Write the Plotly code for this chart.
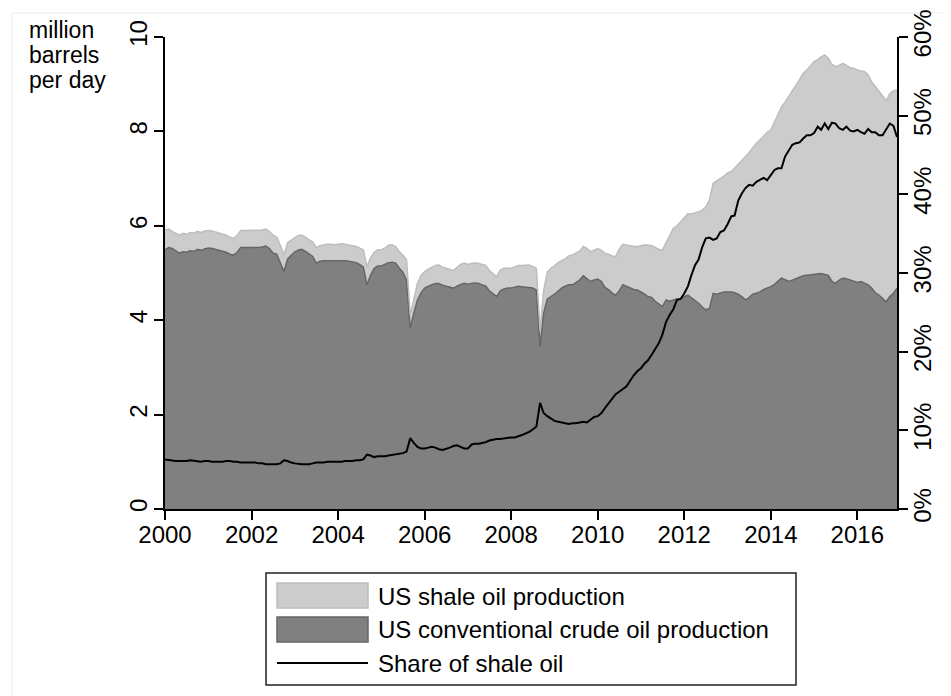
import pandas as pd
import plotly.graph_objects as go

# Monthly data, Jan 2000 .. Dec 2016 (million barrels per day)
conventional = [
    5.49, 5.54, 5.52, 5.47, 5.42, 5.45, 5.44, 5.47, 5.46, 5.50, 5.48, 5.51,
    5.53, 5.52, 5.50, 5.48, 5.46, 5.44, 5.40, 5.38, 5.44, 5.54, 5.54, 5.54,
    5.54, 5.53, 5.54, 5.55, 5.57, 5.52, 5.42, 5.40, 5.22, 5.03, 5.30, 5.38,
    5.45, 5.49, 5.50, 5.46, 5.40, 5.35, 5.21, 5.25, 5.26, 5.26, 5.27, 5.26,
    5.26, 5.27, 5.26, 5.25, 5.24, 5.22, 5.18, 5.13, 4.75, 4.95, 5.10, 5.15,
    5.15, 5.18, 5.22, 5.23, 5.21, 5.10, 5.02, 4.85, 3.83, 4.15, 4.43, 4.58,
    4.68, 4.72, 4.75, 4.78, 4.78, 4.74, 4.72, 4.70, 4.68, 4.72, 4.76, 4.78,
    4.76, 4.78, 4.79, 4.78, 4.75, 4.72, 4.62, 4.55, 4.50, 4.62, 4.66, 4.68,
    4.68, 4.70, 4.72, 4.71, 4.70, 4.70, 4.68, 4.64, 3.44, 4.15, 4.45, 4.50,
    4.55, 4.62, 4.68, 4.72, 4.75, 4.75, 4.80, 4.85, 4.94, 4.88, 4.82, 4.85,
    4.87, 4.82, 4.70, 4.65, 4.58, 4.53, 4.62, 4.75, 4.72, 4.68, 4.65, 4.64,
    4.60, 4.55, 4.50, 4.48, 4.40, 4.35, 4.29, 4.43, 4.40, 4.43, 4.45, 4.45,
    4.50, 4.53, 4.48, 4.42, 4.36, 4.28, 4.22, 4.25, 4.57, 4.55, 4.58, 4.60,
    4.60, 4.60, 4.58, 4.55, 4.50, 4.43, 4.48, 4.55, 4.57, 4.60, 4.65, 4.68,
    4.71, 4.76, 4.82, 4.89, 4.86, 4.82, 4.85, 4.88, 4.92, 4.94, 4.95, 4.96,
    4.97, 4.98, 4.99, 4.97, 4.95, 4.82, 4.78, 4.85, 4.89, 4.88, 4.85, 4.82,
    4.80, 4.82, 4.78, 4.75, 4.68, 4.58, 4.53, 4.45, 4.39, 4.50, 4.57, 4.68,
]
shale = [
    0.42, 0.39, 0.36, 0.37, 0.38, 0.39, 0.38, 0.39, 0.39, 0.38, 0.38, 0.38,
    0.37, 0.37, 0.37, 0.37, 0.36, 0.36, 0.36, 0.35, 0.36, 0.36, 0.36, 0.36,
    0.36, 0.37, 0.36, 0.36, 0.36, 0.36, 0.38, 0.36, 0.36, 0.35, 0.34, 0.32,
    0.30, 0.31, 0.30, 0.30, 0.30, 0.31, 0.33, 0.33, 0.34, 0.35, 0.34, 0.34,
    0.35, 0.35, 0.35, 0.35, 0.34, 0.34, 0.35, 0.36, 0.38, 0.37, 0.34, 0.34,
    0.34, 0.35, 0.37, 0.37, 0.35, 0.35, 0.36, 0.43, 0.28, 0.30, 0.35, 0.37,
    0.35, 0.36, 0.37, 0.38, 0.39, 0.38, 0.38, 0.37, 0.37, 0.40, 0.42, 0.43,
    0.42, 0.42, 0.42, 0.42, 0.43, 0.44, 0.43, 0.43, 0.42, 0.44, 0.44, 0.42,
    0.42, 0.43, 0.44, 0.45, 0.47, 0.47, 0.46, 0.46, 0.35, 0.47, 0.57, 0.60,
    0.60, 0.60, 0.58, 0.58, 0.61, 0.63, 0.62, 0.61, 0.62, 0.64, 0.63, 0.63,
    0.65, 0.66, 0.72, 0.75, 0.78, 0.82, 0.88, 0.86, 0.88, 0.90, 0.91, 0.92,
    0.98, 1.05, 1.09, 1.10, 1.14, 1.15, 1.20, 1.23, 1.40, 1.52, 1.55, 1.63,
    1.68, 1.73, 1.77, 1.85, 1.94, 2.05, 2.18, 2.30, 2.33, 2.40, 2.42, 2.45,
    2.52, 2.55, 2.64, 2.75, 2.88, 3.03, 3.07, 3.10, 3.18, 3.22, 3.25, 3.30,
    3.32, 3.44, 3.56, 3.63, 3.76, 3.93, 4.03, 4.10, 4.18, 4.29, 4.35, 4.44,
    4.51, 4.54, 4.59, 4.65, 4.60, 4.60, 4.59, 4.55, 4.55, 4.52, 4.50, 4.52,
    4.50, 4.46, 4.49, 4.45, 4.37, 4.37, 4.32, 4.30, 4.26, 4.30, 4.29, 4.20,
]
# Share of shale oil in total production (percent)
share_pct = [
    6.3, 6.2, 6.2, 6.1, 6.1, 6.1, 6.1, 6.2, 6.1, 6.1, 6.0, 6.1,
    6.1, 6.0, 6.0, 6.0, 6.0, 6.1, 6.1, 6.0, 6.0, 5.9, 5.9, 5.9,
    5.9, 5.9, 5.8, 5.8, 5.7, 5.7, 5.7, 5.7, 5.8, 6.2, 6.1, 5.9,
    5.8, 5.7, 5.7, 5.7, 5.7, 5.8, 5.9, 5.9, 5.9, 6.0, 6.0, 6.0,
    6.0, 6.0, 6.1, 6.1, 6.1, 6.2, 6.2, 6.3, 6.9, 6.8, 6.6, 6.7,
    6.7, 6.7, 6.8, 6.9, 6.9, 7.0, 7.1, 7.3, 9.0, 8.4, 7.9, 7.7,
    7.7, 7.8, 7.9, 7.8, 7.6, 7.5, 7.6, 7.8, 8.0, 8.1, 7.9, 7.7,
    7.7, 8.2, 8.3, 8.3, 8.4, 8.5, 8.7, 8.8, 8.9, 8.9, 9.0, 9.0,
    9.1, 9.1, 9.2, 9.4, 9.6, 9.8, 10.1, 10.5, 13.5, 12.2, 11.8, 11.5,
    11.2, 11.1, 11.0, 10.9, 10.8, 10.9, 10.9, 11.0, 11.1, 11.0, 11.4, 11.7,
    11.8, 12.2, 12.8, 13.4, 14.0, 14.6, 14.9, 15.2, 15.6, 16.3, 17.0, 17.5,
    17.9, 18.5, 18.9, 19.6, 20.4, 21.1, 22.2, 23.8, 24.7, 25.4, 26.6, 26.7,
    27.4, 28.3, 29.7, 31.0, 31.7, 33.3, 34.4, 34.5, 34.2, 34.4, 35.2, 35.4,
    36.2, 37.2, 37.3, 39.2, 40.1, 40.8, 41.2, 41.1, 41.6, 41.8, 42.1, 41.8,
    42.5, 43.1, 43.3, 43.3, 44.8, 45.5, 46.3, 46.5, 46.6, 47.1, 47.5, 47.5,
    47.8, 48.6, 48.2, 49.0, 48.3, 49.1, 49.0, 48.4, 48.2, 48.6, 48.1, 48.0,
    48.2, 47.9, 47.7, 48.3, 47.9, 47.9, 47.5, 47.5, 48.3, 49.0, 48.7, 47.3,
]
months = pd.date_range("2000-01-01", periods=len(conventional), freq="MS")
share = [v / 100 for v in share_pct]

legend_labels = ["US shale oil production",
                 "US conventional crude oil production",
                 "Share of shale oil"]
unit_lines = ["million", "barrels", "per day"]

# The page body adds an 8px offset; all target screen pixels are shifted by OFF.
OFF = 8
W, H = 951 - OFF, 696 - OFF
L, R, T, B = 165 - OFF, 897 - OFF, 37 - OFF, 509 - OFF
FONT = "Liberation Sans, Arial, Helvetica, sans-serif"
FS = 24


def px(x):
    """screen x pixel -> paper coordinate"""
    return (x - OFF - L) / (R - L)


def py(y):
    """screen y pixel -> paper coordinate"""
    return (B - (y - OFF)) / (B - T)


fig = go.Figure()
fig.add_trace(go.Scatter(
    x=months, y=conventional, stackgroup="one", mode="lines",
    line=dict(color="#666666", width=1.5), fillcolor="#808080",
    name=legend_labels[1], showlegend=False, hoverinfo="skip"))
fig.add_trace(go.Scatter(
    x=months, y=shale, stackgroup="one", mode="lines",
    line=dict(color="#bdbdbd", width=1.5), fillcolor="#cccccc",
    name=legend_labels[0], showlegend=False, hoverinfo="skip"))
fig.add_trace(go.Scatter(
    x=months, y=share, yaxis="y2", mode="lines",
    line=dict(color="#000000", width=2),
    name=legend_labels[2], showlegend=False, hoverinfo="skip"))

axis_common = dict(showline=True, linecolor="#000000", linewidth=1.5,
                   ticks="outside", ticklen=9, tickwidth=1.5, tickcolor="#000000",
                   showgrid=False, zeroline=False, automargin=False,
                   tickfont=dict(family=FONT, size=FS, color="#000000"))

fig.update_layout(
    width=W, height=H,
    margin=dict(l=L, r=W - R, t=T, b=H - B, pad=0),
    paper_bgcolor="white", plot_bgcolor="white",
    font=dict(family=FONT, size=FS, color="#000000"),
    showlegend=False,
    xaxis=dict(type="date", range=["2000-01-01", "2016-12-01"],
               tick0="2000-01-01", dtick="M24", tickformat="%Y",
               ticklabelstandoff=-6, **axis_common),
    yaxis=dict(range=[0, 10], tickvals=[0, 2, 4, 6, 8, 10], tickangle=-90,
               ticklabelstandoff=-2, **axis_common),
    yaxis2=dict(range=[0, 0.6], tickvals=[0, 0.1, 0.2, 0.3, 0.4, 0.5, 0.6],
                tickformat=".0%", overlaying="y", side="right", tickangle=-90,
                ticklabelstandoff=-6, **axis_common),
)

shapes = []
# outer faint border
shapes.append(dict(type="rect", xref="paper", yref="paper",
                   x0=px(12), x1=px(960), y0=py(13), y1=py(705),
                   line=dict(color="#ebebeb", width=1), layer="below"))
# legend box
shapes.append(dict(type="rect", xref="paper", yref="paper",
                   x0=px(266), x1=px(796), y0=py(573), y1=py(685),
                   line=dict(color="#222222", width=1.5)))
shapes.append(dict(type="rect", xref="paper", yref="paper",
                   x0=px(277), x1=px(368), y0=py(583), y1=py(608),
                   fillcolor="#cccccc", line=dict(color="#bdbdbd", width=1.5)))
shapes.append(dict(type="rect", xref="paper", yref="paper",
                   x0=px(277), x1=px(368), y0=py(617), y1=py(642),
                   fillcolor="#808080", line=dict(color="#666666", width=1.5)))
shapes.append(dict(type="line", xref="paper", yref="paper",
                   x0=px(277), x1=px(368), y0=py(663), y1=py(663),
                   line=dict(color="#000000", width=2)))
fig.update_layout(shapes=shapes)

annotations = []
for label, yc in zip(legend_labels, [596, 629, 663]):
    annotations.append(dict(text=label, xref="paper", yref="paper",
                            x=px(376), y=py(yc), xanchor="left", yanchor="middle",
                            showarrow=False, font=dict(family=FONT, size=FS)))
for line_txt, yc in zip(unit_lines, [30, 55, 80]):
    annotations.append(dict(text=line_txt, xref="paper", yref="paper",
                            x=px(27), y=py(yc), xanchor="left", yanchor="middle",
                            showarrow=False, font=dict(family=FONT, size=23)))
fig.update_layout(annotations=annotations)

fig.write_html("out.html")
